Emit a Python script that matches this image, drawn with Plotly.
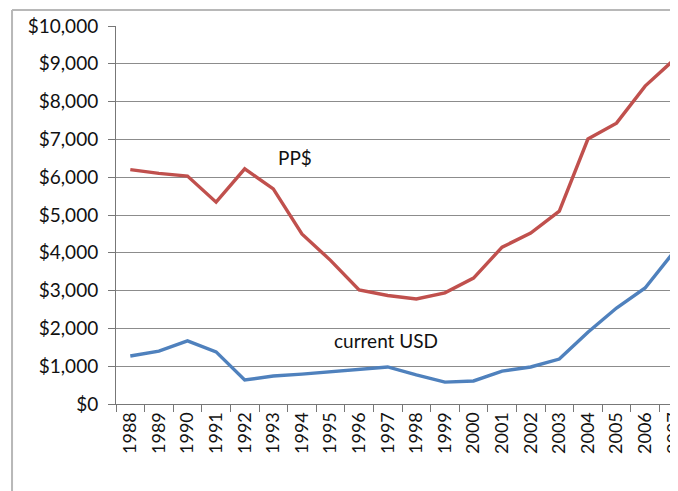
import plotly.graph_objects as go

years = [str(y) for y in range(1988, 2008)]
pp_dollars = [6200, 6100, 6030, 5340, 6220, 5690, 4500, 3800, 3020, 2870,
              2780, 2940, 3330, 4150, 4520, 5100, 7010, 7430, 8410, 9100]
current_usd = [1270, 1400, 1670, 1380, 635, 740, 790, 850, 920, 980,
               770, 580, 610, 870, 980, 1190, 1900, 2540, 3070, 4020]
y_ticks = [0, 1000, 2000, 3000, 4000, 5000, 6000, 7000, 8000, 9000, 10000]
y_tick_labels = ["$" + format(v, ",") for v in y_ticks]

FONT = "Lato, 'Open Sans', sans-serif"

fig = go.Figure()
fig.add_trace(go.Scatter(x=years, y=pp_dollars, mode="lines", name="PP$",
                         line=dict(color="#C0504D", width=3.4)))
fig.add_trace(go.Scatter(x=years, y=current_usd, mode="lines", name="current USD",
                         line=dict(color="#4F81BD", width=3.4)))

fig.add_annotation(x=5.77, y=6530, text="PP$", showarrow=False,
                   font=dict(family=FONT, size=19, color="#111"))
fig.add_annotation(x=8.95, y=1670, text="current USD", showarrow=False,
                   font=dict(family=FONT, size=19, color="#111"))

# outer frame (top and left edges visible)
fig.add_shape(type="line", xref="paper", yref="paper", x0=-0.185, x1=1.05,
              y0=1.042, y1=1.042, line=dict(color="#B8B8B8", width=2))
fig.add_shape(type="line", xref="paper", yref="paper", x0=-0.185, x1=-0.185,
              y0=1.042, y1=-0.3, line=dict(color="#B8B8B8", width=2))

fig.update_layout(
    width=670, height=483,
    margin=dict(l=108, r=0, t=18, b=87),
    paper_bgcolor="white", plot_bgcolor="white",
    showlegend=False,
    font=dict(family=FONT, size=18, color="#111"),
)
fig.update_xaxes(
    type="category", range=[-0.5, 19.15], automargin=False,
    tickangle=-90, tickson="boundaries", ticks="outside", ticklen=7,
    tickcolor="#777", showline=True, linecolor="#777", linewidth=1,
    showgrid=False, tickfont=dict(family=FONT, size=18, color="#111"),
)
fig.update_yaxes(
    range=[0, 10000], tickvals=y_ticks, ticktext=y_tick_labels, automargin=False,
    ticks="outside", ticklen=7, tickcolor="#777", ticklabelstandoff=6,
    showline=True, linecolor="#777", linewidth=1,
    showgrid=True, gridcolor="#8C8C8C", gridwidth=1, zeroline=False,
    tickfont=dict(family=FONT, size=19, color="#111"),
)

fig.write_html("out.html")
